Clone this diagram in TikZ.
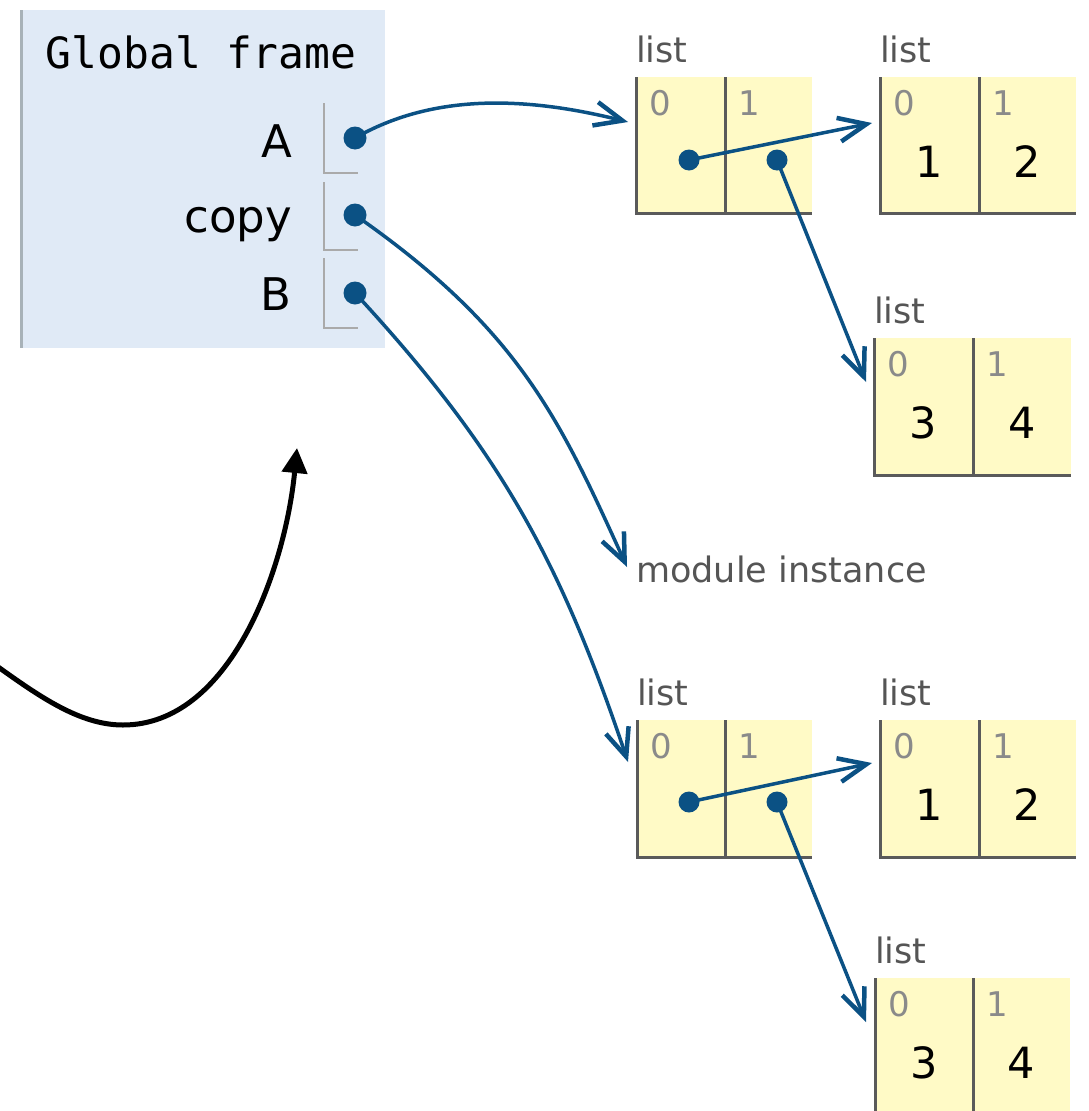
\documentclass[tikz,border=0pt]{standalone}
\usepackage{fontspec}
\setmainfont{DejaVu Sans}
\newfontfamily\monof{DejaVu Sans Mono}
\usetikzlibrary{arrows.meta}
\definecolor{ptrblue}{HTML}{0B5184}
\definecolor{framebg}{HTML}{E0EAF6}
\definecolor{frameborder}{HTML}{A8B2B8}
\definecolor{listfill}{HTML}{FFFAC6}
\definecolor{cellline}{HTML}{5A5A5A}
\definecolor{labgray}{HTML}{555555}
\definecolor{idxgray}{HTML}{8A8A8A}
\definecolor{brackgray}{HTML}{AAAAAA}
\tikzset{
  ptr/.style={draw=ptrblue, line width=3.5pt, -{Straight Barb[length=28pt,width=24pt,line width=4.5pt]}},
  fdot/.style={circle, fill=ptrblue, inner sep=0pt, minimum size=23pt},
  ldot/.style={circle, fill=ptrblue, inner sep=0pt, minimum size=21pt},
  cellborder/.style={draw=cellline, line width=3pt},
  bracket/.style={draw=brackgray, line width=2.5pt},
  typelab/.style={inner sep=0pt, anchor=base west, text=labgray, font=\fontsize{35}{42}\selectfont},
  idx/.style={inner sep=0pt, anchor=base west, text=idxgray, font=\fontsize{34}{40}\selectfont},
  val/.style={inner sep=0pt, anchor=base, text=black, font=\fontsize{43}{50}\selectfont},
  varname/.style={inner sep=0pt, anchor=base east, text=black, font=\fontsize{45}{52}\selectfont},
}
\newcommand\heaplist[9]{%
  % #1 name, #2 left, #3 divider, #4 right, #5 top, #6 bottom, #7 val0, #8 val1, #9 draw bottom (1/0)
  \fill[listfill] (#2,#5) rectangle (#4,#6);
  \ifnum#9=1
    \draw[cellborder] (#2,#5) -- (#2,#6) -- (#4,#6);
  \else
    \draw[cellborder] (#2,#5) -- (#2,#6);
  \fi
  \draw[cellborder] (#3,#5) -- (#3,#6);
  \node[typelab] (#1lab) at (#2,#5-15) {list};
  \node[idx] (#1i0) at (#2+13,#5+38) {0};
  \node[idx] (#1i1) at (#3+13,#5+38) {1};
  \node[val] (#1v0) at ({(#2+#3)/2},#5+100) {#7};
  \node[val] (#1v1) at ({(#3+#4)/2},#5+100) {#8};
}
\begin{document}
\begin{tikzpicture}[x=1pt,y=-1pt]
\useasboundingbox (0,0) rectangle (1088,1111);

% global frame
\fill[framebg] (20,10) rectangle (385,348);
\draw[frameborder, line width=3pt] (21.5,10) -- (21.5,348);
\node[inner sep=0pt, anchor=base, font=\monof\fontsize{43}{50}\selectfont] (gf) at (201,68) {Global frame};

\node[varname] (vA) at (292,157) {A};
\node[varname] (vcopy) at (292,232) {copy};
\node[varname] (vB) at (292,310) {B};

\draw[bracket] (324,103) -- (324,173) -- (358,173);
\draw[bracket] (324,182) -- (324,250) -- (358,250);
\draw[bracket] (324,258) -- (324,328) -- (358,328);

% heap lists
\heaplist{la}{636}{725}{812}{77}{213}{}{}{1}
\heaplist{lb}{880}{979}{1076}{77}{213}{1}{2}{1}
\heaplist{lc}{874}{973}{1071}{338}{475}{3}{4}{1}
\heaplist{ld}{637}{725}{812}{720}{857}{}{}{1}
\heaplist{le}{880}{979}{1076}{720}{857}{1}{2}{1}
\heaplist{lf}{875}{973}{1070}{978}{1115}{3}{4}{0}

\node[inner sep=0pt, anchor=base west, text=labgray, font=\fontsize{35}{42}\selectfont] (mod) at (636,582) {module instance};

% arrow targets
\coordinate (tla) at (628,122);
\coordinate (tlb) at (872,123);
\coordinate (tlc) at (866,382);
\coordinate (tmod) at (627,567);
\coordinate (tld) at (628,762);
\coordinate (tle) at (872,763);
\coordinate (tlf) at (866,1022);

% pointers
\draw[ptr] (355,138) coordinate (sA) .. controls (430,95) and (520,95) .. (tla);
\draw[ptr] (355,215) coordinate (scopy) .. controls (520,330) and (560,420) .. (tmod);
\draw[ptr] (355,293) coordinate (sB) .. controls (500,450) and (560,560) .. (tld);
\draw[ptr] (689,160) coordinate (sla0) -- (tlb);
\draw[ptr] (777,160) coordinate (sla1) -- (tlc);
\draw[ptr] (689,802) coordinate (sld0) -- (tle);
\draw[ptr] (777,802) coordinate (sld1) -- (tlf);

\node[fdot] (dA) at (sA) {};
\node[fdot] (dcopy) at (scopy) {};
\node[fdot] (dB) at (sB) {};
\node[ldot] (dla0) at (sla0) {};
\node[ldot] (dla1) at (sla1) {};
\node[ldot] (dld0) at (sld0) {};
\node[ldot] (dld1) at (sld1) {};

% black annotation arrow
\coordinate (bstart) at (-6,664);
\coordinate (blow) at (123,725);
\coordinate (btip) at (297,448);
\draw[line width=5pt, -{Triangle[length=25pt,width=25pt]}] (bstart) .. controls (40,697) and (80,725) .. (blow) .. controls (230,725) and (285,570) .. (btip);
\end{tikzpicture}
\end{document}
